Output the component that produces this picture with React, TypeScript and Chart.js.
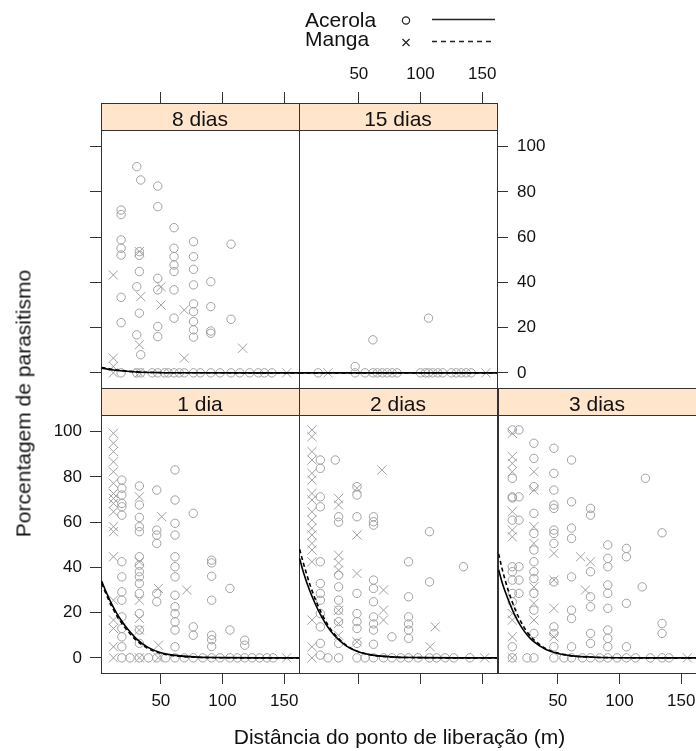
import React, { useEffect, useRef } from "react";
import { Chart, registerables } from "chart.js";
Chart.register(...registerables);

const FONT = "'Liberation Sans', Arial, Helvetica, sans-serif";

// ---- axis ticks / ranges ----
const X_TICKS = [50, 100, 150];
const Y_TICKS = [0, 20, 40, 60, 80, 100];
const X_MIN = 1.5;
const X_MAX = 162;
const Y_MIN = -6.7;
const Y_MAX = 107.4;

// ---- legend ----
const SERIES = ["Acerola", "Manga"];

// ---- panel names ----
const PANEL_NAMES = ["8 dias", "15 dias", "1 dia", "2 dias", "3 dias"];

// ---- data: [distance, [parasitism values...]] ----
type Col = [number, number[]][];

const D8_ACEROLA: Col = [
  [17.8, [72, 70, 58.8, 55.1, 52.1, 33.4, 22.2, 0]],
  [30.5, [91.2, 38.1, 16.8, 0]],
  [32.6, [53.6, 52, 44.8, 26.4]],
  [33.7, [85.3, 8, 0]],
  [43, [0]],
  [47.5, [82.6, 73.5, 41.8, 36.7, 20.5, 16, 0]],
  [53, [0]],
  [56, [0]],
  [60.7, [64.2, 55.1, 51.4, 47.7, 44.8, 36.7, 24.2, 0]],
  [65, [0]],
  [69, [0]],
  [76.5, [58, 51.4, 45.8, 38.9, 30.5, 27.1, 22.7, 19, 15.8, 0]],
  [82, [0]],
  [90.5, [40.3, 29.3, 18.5, 17.5, 0]],
  [98, [0]],
  [106.9, [56.9, 23.7, 0]],
  [114, [0]],
  [122, [0]],
  [129, [0]],
  [134, [0]],
  [140, [0]],
];
const D8_MANGA: Col = [
  [11.5, [43.3, 6.5, 2.8, 0]],
  [32.6, [53.6, 12.4, 0]],
  [33.7, [33.7]],
  [50.2, [38.1, 30]],
  [69, [27.8, 6.5]],
  [116.3, [10.9]],
  [152, [0]],
];

const D15_ACEROLA: Col = [
  [17, [0]], [47, [2.8, 0]], [55, [0]], [61.4, [14.6, 0]], [65, [0]],
  [69, [0]], [73, [0]], [77, [0]], [81, [0]], [100, [0]], [104, [0]],
  [106.5, [24.2, 0]], [110, [0]], [114, [0]], [118, [0]], [125, [0]],
  [129, [0]], [133, [0]], [137, [0]], [141, [0]],
];
const D15_MANGA: Col = [[25, [0]], [153, [0]]];

const D1_ACEROLA: Col = [
  [18.4, [78.6, 75, 72, 68.3, 66.8, 63.1, 42.5, 35.8, 29.2, 25.5, 18.1, 13, 9.3, 4.9, 0]],
  [25, [0]],
  [32.6, [76, 67.6, 62.1, 58, 55.8, 44.7, 41, 38.1, 35.8, 32.9, 28.5, 19.6, 12.3, 6.4, 0]],
  [40, [0]],
  [46.7, [74.2, 56.5, 54.3, 50.6, 28.5, 24.8, 0]],
  [54, [0]],
  [61.5, [83.1, 69.8, 59.5, 54.3, 44.7, 40.3, 35.8, 27.7, 22.6, 19.6, 15.9, 12.3, 4.9, 0]],
  [69, [0]],
  [76.3, [63.9, 13.7, 10, 0]],
  [84, [0]],
  [91.2, [43.2, 42, 36.1, 25.5, 10, 8, 5, 0]],
  [98, [0]],
  [106, [30.7, 12.3, 0]],
  [112, [0]],
  [118, [7.8, 5.6, 0]],
  [124, [0]], [130, [0]], [136, [0]], [141, [0]],
];
const D1_MANGA: Col = [
  [11.6, [99.3, 94.9, 91.2, 86.7, 82.3, 77.2, 72.7, 70.5, 68.3, 64.6, 58, 55.8, 44.7, 25.5, 16.7, 13, 4.9, 0]],
  [32.6, [71.2, 42.5, 25.5, 17.4, 12.3, 0]],
  [48, [30.7, 5.6, 0]],
  [50.7, [62.4]],
  [71, [30]],
  [152, [0]],
];

const D2_ACEROLA: Col = [
  [18.8, [87.5, 83.8, 71.2, 66.8, 42.5, 32.9, 28.5, 25.5, 19.6, 13.7, 6.4, 1.2]],
  [25, [0]],
  [30.9, [87.5]],
  [33.6, [62.4, 60, 36.6, 31.4, 25.5, 21.1, 16, 6.4, 0]],
  [48.5, [75.7, 72, 62.4, 28.5, 19.6, 16, 13, 6.4, 0]],
  [55, [0]],
  [61.9, [62.4, 60.2, 58.7, 34.4, 30.7, 24.8, 18.1, 15, 12.3, 6, 0]],
  [70, [0]],
  [76.8, [9.3, 0]],
  [84, [0]],
  [90.3, [42.5, 27, 18.1, 15, 12.3, 8.6, 0]],
  [98, [0]],
  [107.3, [55.8, 33.6, 0]],
  [113, [0]], [120, [0]], [127, [0]],
  [134.8, [40.3]],
  [140, [0]],
];
const D2_MANGA: Col = [
  [12, [100.8, 97.8, 91.2, 87.5, 81.6, 78.6, 72.7, 69.8, 64.6, 60.9, 57.3, 54.3, 50.6, 47.7, 42.5, 16.7, 4.9, 0]],
  [33.6, [70.5, 67.6, 45.4, 42, 38.8, 21, 15.2, 10]],
  [48.5, [75, 54.3, 37.3, 7.1]],
  [68.7, [83.1]],
  [70, [30, 21.1, 16.7]],
  [107.8, [4.9]],
  [111.9, [13.7]],
  [152, [0]],
];

const D3_ACEROLA: Col = [
  [13.1, [100.8, 79.4, 71.2, 70.7, 60.9, 40.3, 38.1, 34.4, 28.5, 24.8, 4.9, 0]],
  [18.5, [100.8, 71.2, 60.9, 40.3, 34.4, 28.5]],
  [25, [0]],
  [30.6, [94.9, 88.2, 75.7, 63.9, 55, 47.7, 42.5, 38.1, 35.1, 28.5, 21.1, 10.8, 0]],
  [46.8, [92.7, 81.6, 74.2, 67.6, 66.1, 56.5, 55, 50.6, 33.6, 13.7, 10.8, 4.9, 0]],
  [55, [0]],
  [61.1, [87.5, 69, 57.4, 52.8, 35.8, 21.1, 17.4, 4.9, 0]],
  [70, [0]],
  [76.5, [66.1, 63.1, 38.1, 27, 22.6, 10.8, 6.4, 0]],
  [84, [0]],
  [90.5, [49.9, 44, 40.3, 32.2, 28.5, 21.9, 12.3, 8.6, 4.9, 0]],
  [98, [0]],
  [105.6, [48.4, 44.7, 24.1, 4.9, 0]],
  [113, [0]],
  [118.4, [31.4]],
  [121, [79.4]],
  [125, [0]],
  [134.5, [55.3, 15.2, 10.8, 0]],
  [140, [0]],
];
const D3_MANGA: Col = [
  [13.1, [99.3, 89, 86, 82.3, 64.7, 56.5, 53.5, 19.6, 16.7, 9.3, 0]],
  [30.6, [82.3, 74.2, 58, 50.6, 31.4, 24.1, 16.7]],
  [46.8, [46.2, 34.4, 21.9, 9.3]],
  [68.4, [44.7]],
  [72.4, [30]],
  [76.5, [42.5]],
  [155, [0]],
];

// ---- fitted curves ----
const CURVE_X = [2, 5, 10, 15, 20, 25, 30, 40, 50, 60, 80, 100, 130, 162];
const C1_ACEROLA = [34, 30, 24, 19, 15, 11.5, 8.5, 4.5, 2.3, 1.2, 0.3, 0.1, 0, 0];
const C1_MANGA = [33, 29, 23, 18, 14, 10.7, 7.8, 4, 2, 1, 0.25, 0.05, 0, 0];
const C2_ACEROLA = [44, 38, 30, 23.5, 18, 13.5, 10, 5.2, 2.6, 1.3, 0.3, 0.1, 0, 0];
const C2_MANGA = [48, 42, 33, 25.5, 19.5, 14.5, 10.7, 5.5, 2.7, 1.3, 0.3, 0.1, 0, 0];
const C3_ACEROLA = [39, 33, 25.5, 19, 14, 10.2, 7.4, 3.8, 1.9, 1, 0.25, 0.05, 0, 0];
const C3_MANGA = [46, 39, 29.5, 22, 16, 11.5, 8.3, 4.2, 2.1, 1, 0.25, 0.05, 0, 0];
const C8_X = [2, 10, 20, 30, 45, 60, 162];
const C8_ACEROLA = [2.1, 1.4, 0.8, 0.4, 0.15, 0.05, 0];
const C8_MANGA = [2.4, 1.6, 0.9, 0.45, 0.15, 0.05, 0];
const C15_X = [2, 162];
const C15_ACEROLA = [0, 0];
const C15_MANGA = [0, 0];

// ---- layout ----
const W = 696;
const H = 751;
const CW = 800; // canvas size (clipped by the page container)
const CH = 800;
const AX = 90; // room kept for each axis (ticks + labels)
const COL_LEFT = [101, 299, 498];
const ROW_TOP = [130, 415];
const PANEL_W = 198;
const PANEL_H = 258;
const STRIP_H = 27;
const TICK_LEN = 11;
const AXIS_COLOR = "#333333";
const POINT_COLOR = "#A0A0A0";
const STRIP_FILL = "#FFE5CC";

type AxisMode = "none" | "ticks" | "labels";
interface PanelSpec {
  name: string;
  col: number;
  row: number;
  ace: Col;
  manga: Col;
  cx: number[];
  cAce: number[];
  cManga: number[];
  left: AxisMode;
  right: AxisMode;
  top: AxisMode;
  bottom: AxisMode;
}

const PANELS: PanelSpec[] = [
  { name: PANEL_NAMES[0], col: 0, row: 0, ace: D8_ACEROLA, manga: D8_MANGA, cx: C8_X, cAce: C8_ACEROLA, cManga: C8_MANGA, left: "ticks", right: "none", top: "ticks", bottom: "none" },
  { name: PANEL_NAMES[1], col: 1, row: 0, ace: D15_ACEROLA, manga: D15_MANGA, cx: C15_X, cAce: C15_ACEROLA, cManga: C15_MANGA, left: "none", right: "labels", top: "labels", bottom: "none" },
  { name: PANEL_NAMES[2], col: 0, row: 1, ace: D1_ACEROLA, manga: D1_MANGA, cx: CURVE_X, cAce: C1_ACEROLA, cManga: C1_MANGA, left: "labels", right: "none", top: "none", bottom: "labels" },
  { name: PANEL_NAMES[3], col: 1, row: 1, ace: D2_ACEROLA, manga: D2_MANGA, cx: CURVE_X, cAce: C2_ACEROLA, cManga: C2_MANGA, left: "none", right: "none", top: "none", bottom: "ticks" },
  { name: PANEL_NAMES[4], col: 2, row: 1, ace: D3_ACEROLA, manga: D3_MANGA, cx: CURVE_X, cAce: C3_ACEROLA, cManga: C3_MANGA, left: "none", right: "ticks", top: "none", bottom: "labels" },
];

const toPts = (cols: Col) => cols.flatMap(([x, ys]) => ys.map((y) => ({ x, y })));
const toCurve = (xs: number[], ys: number[]) => xs.map((x, i) => ({ x, y: ys[i] }));

function makeScale(axis: "x" | "y", position: string, mode: AxisMode, tickLen: number, pad: number) {
  const vals = axis === "x" ? X_TICKS : Y_TICKS;
  return {
    type: "linear",
    axis,
    position,
    min: axis === "x" ? X_MIN : Y_MIN,
    max: axis === "x" ? X_MAX : Y_MAX,
    afterBuildTicks: (s: any) => {
      s.ticks = vals.map((v) => ({ value: v }));
    },
    afterFit: (s: any) => {
      if (axis === "x") s.height = AX;
      else s.width = AX;
      s.paddingLeft = 0;
      s.paddingRight = 0;
      s.paddingTop = 0;
      s.paddingBottom = 0;
    },
    grid: {
      display: true,
      drawOnChartArea: false,
      drawTicks: mode !== "none",
      tickLength: tickLen,
      color: AXIS_COLOR,
      lineWidth: 1,
    },
    border: { display: true, color: AXIS_COLOR, width: 1 },
    ticks: {
      display: mode === "labels",
      padding: pad,
      color: "#111",
      autoSkip: false,
      maxRotation: 0,
      minRotation: 0,
      font: { family: FONT, size: 17 },
    },
  };
}

const stripPlugin = (name: string) => ({
  id: "strip",
  afterDraw(chart: any) {
    const { ctx, chartArea: a } = chart;
    const l = Math.round(a.left) + 0.5;
    const t = Math.round(a.top - STRIP_H) + 0.5;
    const w = Math.round(a.right) - Math.round(a.left);
    ctx.save();
    ctx.fillStyle = STRIP_FILL;
    ctx.fillRect(l, t, w, STRIP_H);
    ctx.strokeStyle = AXIS_COLOR;
    ctx.lineWidth = 1;
    ctx.strokeRect(l, t, w, STRIP_H);
    ctx.fillStyle = "#111";
    ctx.font = `21px ${FONT}`;
    ctx.textAlign = "center";
    ctx.textBaseline = "alphabetic";
    ctx.fillText(name, (a.left + a.right) / 2, a.top - 4.5);
    ctx.restore();
  },
});

const legendPlugin = {
  id: "latticeLegend",
  afterDraw(chart: any) {
    const ctx = chart.ctx;
    ctx.save();
    ctx.fillStyle = "#111";
    ctx.font = `21px ${FONT}`;
    ctx.textAlign = "left";
    ctx.textBaseline = "alphabetic";
    ctx.fillText(SERIES[0], 305, 27);
    ctx.fillText(SERIES[1], 305, 46);
    ctx.strokeStyle = "#222";
    ctx.lineWidth = 1.2;
    ctx.beginPath();
    ctx.arc(406, 20.5, 3.6, 0, Math.PI * 2);
    ctx.stroke();
    ctx.beginPath();
    ctx.moveTo(402.5, 39);
    ctx.lineTo(409.5, 46);
    ctx.moveTo(409.5, 39);
    ctx.lineTo(402.5, 46);
    ctx.stroke();
    ctx.lineWidth = 1.5;
    ctx.beginPath();
    ctx.moveTo(432, 19.5);
    ctx.lineTo(495, 19.5);
    ctx.stroke();
    ctx.setLineDash([5, 4]);
    ctx.beginPath();
    ctx.moveTo(432, 41.5);
    ctx.lineTo(495, 41.5);
    ctx.stroke();
    ctx.restore();
  },
};

function makeChart(canvas: HTMLCanvasElement, p: PanelSpec, withLegend: boolean) {
  const left = COL_LEFT[p.col];
  const top = ROW_TOP[p.row];
  const topTickLen = p.row === 0 ? STRIP_H + TICK_LEN : TICK_LEN;
  const plugins: any[] = [stripPlugin(p.name)];
  if (withLegend) plugins.push(legendPlugin);
  return new Chart(canvas, {
    type: "scatter",
    data: {
      datasets: [
        {
          label: SERIES[0] + " fit",
          data: toCurve(p.cx, p.cAce),
          showLine: true,
          pointRadius: 0,
          borderColor: "#000",
          borderWidth: 1.6,
          cubicInterpolationMode: "monotone",
          fill: false,
        },
        {
          label: SERIES[1] + " fit",
          data: toCurve(p.cx, p.cManga),
          showLine: true,
          pointRadius: 0,
          borderColor: "#000",
          borderWidth: 1.6,
          borderDash: [4, 3],
          cubicInterpolationMode: "monotone",
          fill: false,
        },
        {
          label: SERIES[1],
          data: toPts(p.manga),
          pointStyle: "crossRot",
          pointRadius: 6.5,
          pointBorderWidth: 1,
          pointBorderColor: POINT_COLOR,
          pointBackgroundColor: "rgba(0,0,0,0)",
          showLine: false,
        },
        {
          label: SERIES[0],
          data: toPts(p.ace),
          pointStyle: "circle",
          pointRadius: 4.2,
          pointBorderWidth: 1,
          pointBorderColor: POINT_COLOR,
          pointBackgroundColor: "rgba(0,0,0,0)",
          showLine: false,
        },
      ],
    },
    options: {
      responsive: false,
      animation: false,
      devicePixelRatio: 1,
      events: [],
      layout: {
        autoPadding: false,
        padding: {
          left: left - AX,
          top: top - AX,
          right: CW - (left + PANEL_W) - AX,
          bottom: CH - (top + PANEL_H) - AX,
        },
      },
      plugins: {
        legend: { display: false },
        tooltip: { enabled: false },
        title: { display: false },
      },
      scales: {
        x: makeScale("x", "bottom", p.bottom, TICK_LEN, 7),
        x2: makeScale("x", "top", p.top, topTickLen, 7),
        y: makeScale("y", "left", p.left, TICK_LEN, 8),
        y2: makeScale("y", "right", p.right, TICK_LEN, 9),
      },
    } as any,
    plugins,
  } as any);
}

export default function App() {
  const refs = useRef<(HTMLCanvasElement | null)[]>([]);
  useEffect(() => {
    const charts = PANELS.map((p, i) => makeChart(refs.current[i] as HTMLCanvasElement, p, i === 1));
    return () => charts.forEach((c) => c.destroy());
  }, []);
  return (
    <div
      style={{
        position: "absolute",
        left: 0,
        top: 0,
        width: W,
        height: H,
        overflow: "hidden",
        background: "#fff",
        fontFamily: FONT,
      }}
    >
      {PANELS.map((p, i) => (
        <canvas
          key={p.name}
          ref={(el) => {
            refs.current[i] = el;
          }}
          width={CW}
          height={CH}
          style={{ position: "absolute", left: 0, top: 0, width: CW, height: CH }}
        />
      ))}
      <div
        style={{
          position: "absolute",
          left: 99.5,
          width: 600,
          top: 726,
          textAlign: "center",
          fontSize: 21,
          lineHeight: "21px",
          color: "#111",
          whiteSpace: "nowrap",
        }}
      >
        Distância do ponto de liberação (m)
      </div>
      <div
        style={{
          position: "absolute",
          left: 22.75 - 200,
          top: 403.5 - 10.5,
          width: 400,
          textAlign: "center",
          fontSize: 21,
          lineHeight: "21px",
          color: "#111",
          whiteSpace: "nowrap",
          transform: "rotate(-90deg)",
          transformOrigin: "50% 50%",
        }}
      >
        Porcentagem de parasitismo
      </div>
    </div>
  );
}
